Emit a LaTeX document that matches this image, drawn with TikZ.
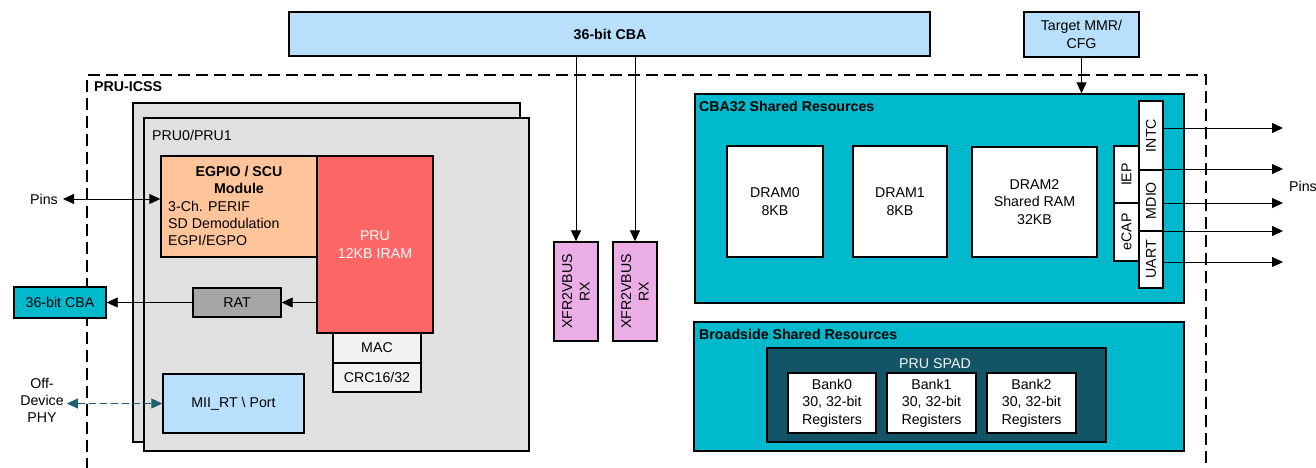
\documentclass[tikz,border=0pt]{standalone}
\usepackage{fontspec}
\setmainfont{Liberation Sans}
\usetikzlibrary{arrows.meta}
\definecolor{lblue}{HTML}{B8DFFC}
\definecolor{teala}{HTML}{00B9CC}
\definecolor{dkteal}{HTML}{135566}
\definecolor{graya}{HTML}{E0E0E0}
\definecolor{orng}{HTML}{FFC499}
\definecolor{reda}{HTML}{FF6666}
\definecolor{ratg}{HTML}{A6A6A6}
\definecolor{macg}{HTML}{F2F2F2}
\definecolor{pinka}{HTML}{EBADE5}
\definecolor{phyc}{HTML}{1D5F6E}
\newcommand{\mkbox}[7]{\node[#2, minimum width={(#5-#3)*1pt}, minimum height={(#6-#4)*1pt}] (#1) at ({(#3+#5)/2},{(#4+#6)/2}) {#7};}
\begin{document}
\begin{tikzpicture}[x=1pt,y=-1pt, font=\fontsize{14.2}{17.5}\selectfont,
  box/.style={draw=black, line width=1.4pt, inner sep=0pt, align=center},
  lbl/.style={inner sep=2pt, align=center},
  arr/.style={-{Triangle[length=11pt,width=10pt]}, line width=0.9pt},
  darr/.style={{Triangle[length=11pt,width=10pt]}-{Triangle[length=11pt,width=10pt]}, line width=0.9pt},
  hdr/.style={anchor=west, font=\fontsize{14.2}{17.5}\selectfont\bfseries, inner sep=2pt}]
\useasboundingbox (0,0) rectangle (1316,467);
\fill[white] (0,0) rectangle (1316,467);

% top bus and target
\mkbox{cbaTop}{box,fill=lblue}{289}{12}{930}{56}{}
\node[lbl, font=\fontsize{14.2}{17.5}\selectfont\bfseries] (cbaTopT) at (610,34) {36-bit CBA};
\mkbox{tmmr}{box,fill=lblue}{1024}{12}{1139}{57}{Target MMR/\\CFG}

% PRU-ICSS dashed outline
\draw[line width=1.6pt, dash pattern=on 12pt off 6pt] (87,470) -- (87,75) -- (1206,75) -- (1206,470);
\node[hdr] (icssT) at (92,87) {PRU-ICSS};

% PRU cores
\mkbox{back}{box,fill=graya}{133}{103}{520}{442}{}
\mkbox{front}{box,fill=graya}{144}{118}{529}{451}{}
\node[lbl, anchor=west] (pruT) at (150,135) {PRU0/PRU1};
\mkbox{egpio}{box,fill=orng}{161}{156}{317}{257}{}
\node[lbl, font=\fontsize{14.2}{17.5}\selectfont\bfseries] (egT) at (239,180) {EGPIO / SCU\\Module};
\node[lbl, anchor=west, align=left, font=\fontsize{14.2}{17}\selectfont] (egT2) at (166,223) {3-Ch. PERIF\\SD Demodulation\\EGPI/EGPO};
\mkbox{mac}{box,fill=macg}{333}{333}{421}{363}{MAC}
\mkbox{crc}{box,fill=macg}{333}{363}{421}{392}{CRC16/32}
\mkbox{pru}{box,fill=reda,text=white}{317}{156}{433}{333}{PRU\\12KB IRAM}
\mkbox{rat}{box,fill=ratg}{193}{288}{281}{317}{RAT}
\mkbox{cbaL}{box,fill=teala}{14}{287}{106}{318}{36-bit CBA}
\mkbox{mii}{box,fill=lblue}{163}{374}{304}{433}{MII\_RT \textbackslash{} Port}

\node[lbl, inner sep=5pt] (pinsL) at (44,199) {Pins};
\node[lbl, font=\fontsize{14.2}{17}\selectfont, inner sep=3pt] (phy) at (42,400) {Off-\\Device\\PHY};

\draw[darr] (pinsL.east) -- (egpio.west |- pinsL.east);
\draw[arr] (pru.west |- rat.east) -- (rat.east);
\draw[arr] (rat.west) -- (cbaL.east);
\draw[darr, draw=phyc, fill=phyc, dash pattern=on 7pt off 4pt] (phy.east |- mii.west) -- (mii.west);

% XFR2VBUS
\mkbox{xfrA}{box,fill=pinka}{554}{242}{598}{341}{}
\node[lbl, rotate=90] (xfrAT) at (xfrA) {XFR2VBUS\\RX};
\mkbox{xfrB}{box,fill=pinka}{613}{242}{657}{341}{}
\node[lbl, rotate=90] (xfrBT) at (xfrB) {XFR2VBUS\\RX};
\draw[arr] (cbaTop.south -| xfrA.north) -- (xfrA.north);
\draw[arr] (cbaTop.south -| xfrB.north) -- (xfrB.north);

% CBA32 shared resources
\mkbox{cba32}{box,fill=teala}{695}{94}{1184}{303}{}
\node[hdr] (cba32T) at (697,106) {CBA32 Shared Resources};
\draw[arr] (tmmr.south) -- (cba32.north -| tmmr.south);
\mkbox{dram0}{box,fill=white}{727}{146}{823}{257}{DRAM0\\8KB}
\mkbox{dram1}{box,fill=white}{853}{146}{947}{257}{DRAM1\\8KB}
\mkbox{dram2}{box,fill=white}{972}{147}{1097}{257}{DRAM2\\Shared RAM\\32KB}
\mkbox{iep}{box,fill=white}{1114}{146}{1139}{203}{}
\node[lbl, rotate=90] (iepT) at (iep) {IEP};
\mkbox{ecap}{box,fill=white}{1114}{203}{1139}{261}{}
\node[lbl, rotate=90] (ecapT) at (ecap) {eCAP};
\mkbox{intc}{box,fill=white}{1139}{101}{1163}{170}{}
\node[lbl, rotate=90] (intcT) at (intc) {INTC};
\mkbox{mdio}{box,fill=white}{1139}{170}{1163}{231}{}
\node[lbl, rotate=90] (mdioT) at (mdio) {MDIO};
\mkbox{uart}{box,fill=white}{1139}{231}{1163}{288}{}
\node[lbl, rotate=90] (uartT) at (uart) {UART};

\coordinate (e1) at (1283,128);
\coordinate (e2) at (1283,169);
\coordinate (e3) at (1283,203);
\coordinate (e4) at (1283,231);
\coordinate (e5) at (1283,262);
\draw[arr] (intc.east |- e1) -- (e1);
\draw[arr] (intc.east |- e2) -- (e2);
\draw[arr] (mdio.east |- e3) -- (e3);
\draw[arr] (uart.east |- e4) -- (e4);
\draw[arr] (uart.east |- e5) -- (e5);
\node[lbl, anchor=west] (pinsR) at (1287,186) {Pins};

% Broadside shared resources
\mkbox{bside}{box,fill=teala}{694}{322}{1184}{451}{}
\node[hdr] (bsideT) at (697,334) {Broadside Shared Resources};
\mkbox{spad}{box,fill=dkteal}{767}{348}{1106}{442}{}
\node[lbl, text=white!92!gray] (spadT) at (935,364) {PRU SPAD};
\mkbox{bank0}{box,fill=white}{788}{373}{876}{433}{Bank0\\30, 32-bit\\Registers}
\mkbox{bank1}{box,fill=white}{887}{373}{976}{433}{Bank1\\30, 32-bit\\Registers}
\mkbox{bank2}{box,fill=white}{987}{373}{1076}{433}{Bank2\\30, 32-bit\\Registers}
\end{tikzpicture}
\end{document}
